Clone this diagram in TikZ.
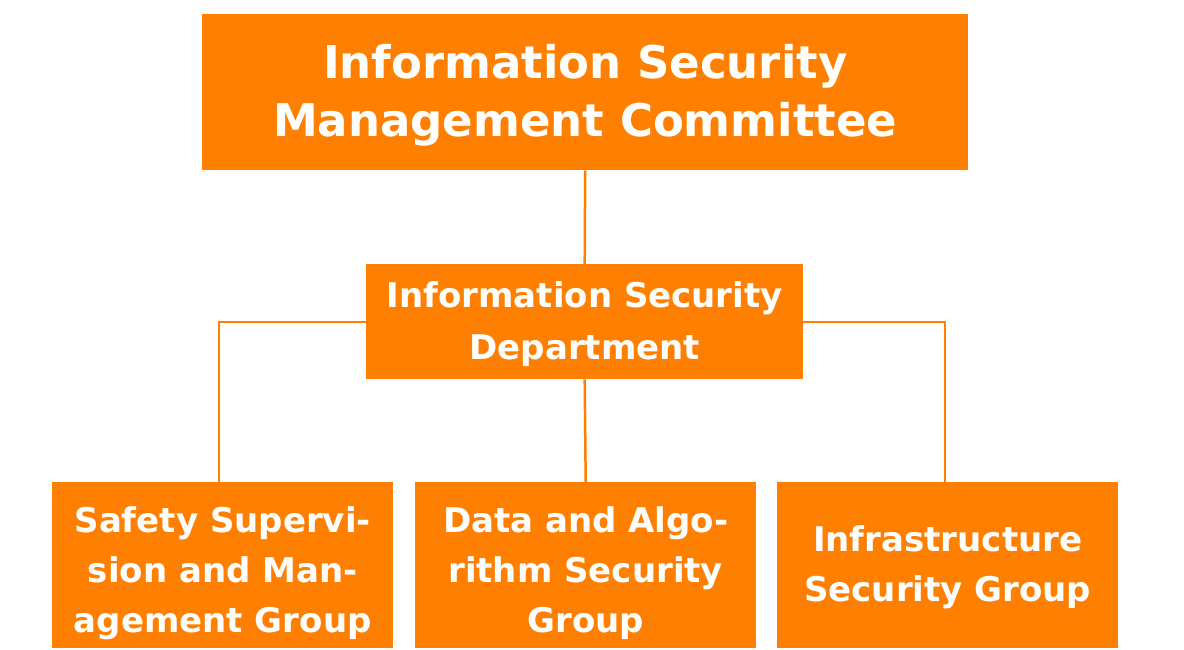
\documentclass[tikz,border=0pt]{standalone}
\usepackage{fontspec}
\setmainfont{DejaVu Sans}
\definecolor{org}{HTML}{FF8000}
\begin{document}
\begin{tikzpicture}[x=1pt,y=-1pt,
  box/.style={fill=org,inner sep=0pt,anchor=north west},
  lbl/.style={text=white,align=center,inner sep=0pt},
  conn/.style={draw=org,line width=2.5pt}]
\useasboundingbox (0,0) rectangle (1184,649);
\node[box,minimum width=766pt,minimum height=156pt] (top) at (202,14) {};
\node[box,minimum width=437pt,minimum height=115pt] (mid) at (366,264) {};
\node[box,minimum width=341pt,minimum height=166pt] (b1) at (52,482) {};
\node[box,minimum width=341pt,minimum height=166pt] (b2) at (415,482) {};
\node[box,minimum width=341pt,minimum height=166pt] (b3) at (777,482) {};
\node[lbl,font=\bfseries\fontsize{45}{58}\selectfont] (ttop) at ([yshift=-3pt]top.center) {Information Security\\Management Committee};
\node[lbl,font=\bfseries\fontsize{34}{52}\selectfont] (tmid) at ([yshift=-2pt]mid.center) {Information Security\\Department};
\node[lbl,font=\bfseries\fontsize{34}{50}\selectfont] (t1) at ([yshift=-8pt]b1.center) {Safety Supervi-\\sion and Man-\\agement Group};
\node[lbl,font=\bfseries\fontsize{34}{50}\selectfont] (t2) at ([yshift=-8pt]b2.center) {Data and Algo-\\rithm Security\\Group};
\node[lbl,font=\bfseries\fontsize{34}{50}\selectfont] (t3) at ([yshift=-2pt]b3.center) {Infrastructure\\Security Group};
\coordinate (jl) at (219,482);
\coordinate (jr) at (945,482);
\draw[conn] (top.south) -- (mid.north);
\draw[conn] (mid.south) -- (b2.north);
\draw[conn] (mid.west |- 0,322) -| (jl);
\draw[conn] (mid.east |- 0,322) -| (jr);
\end{tikzpicture}
\end{document}
